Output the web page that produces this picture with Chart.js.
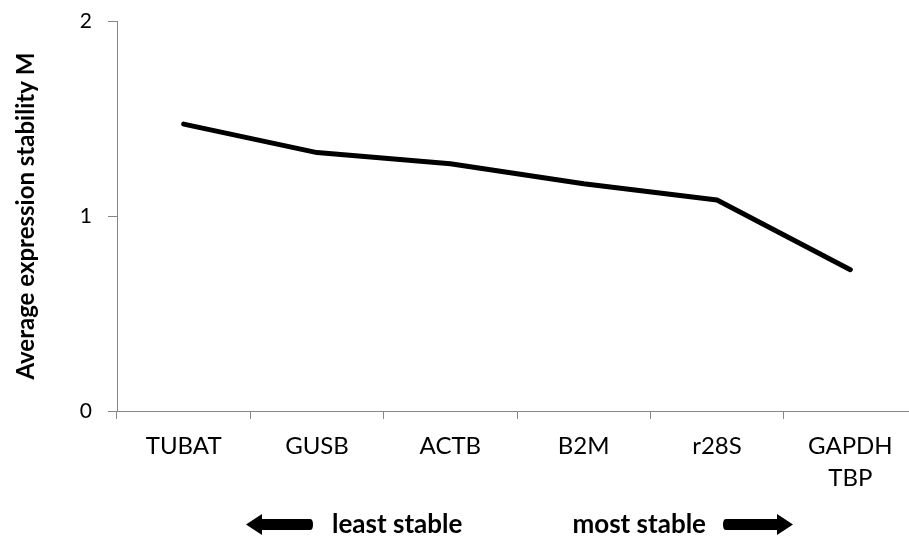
<!DOCTYPE html>
<html>
<head>
<meta charset="utf-8">
<script src="https://cdn.jsdelivr.net/npm/chart.js@4/dist/chart.umd.min.js"></script>
<style>
  html, body { margin: 0; padding: 0; background: #fff; overflow: hidden; }
  #wrap { position: absolute; left: 0; top: 0; width: 917px; height: 539px; }
</style>
</head>
<body>
<div id="wrap"><canvas id="chart"></canvas></div>
<script>
// Reference genes ordered from least to most stable
const genes = ['TUBAT', 'GUSB', 'ACTB', 'B2M', 'r28S', ['GAPDH', 'TBP']];
// Average expression stability M per step
const stabilityM = [1.472, 1.326, 1.269, 1.166, 1.083, 0.725];
// Y axis ticks
const yTicks = [0, 1, 2];

const FONT = 'Lato, "Open Sans", sans-serif';
const AXIS_GREY = '#868686';

// Bottom caption with direction arrows
const stabilityArrows = {
  id: 'stabilityArrows',
  afterDraw(chart) {
    const ctx = chart.ctx;
    const cy = 524.5;
    function arrow(tail, tip) {
      const dir = Math.sign(tip - tail);
      const headLen = 16, headH = 10.5, shaftH = 5.5;
      const neck = tip - dir * headLen;
      ctx.beginPath();
      ctx.moveTo(tip, cy);
      ctx.lineTo(neck, cy - headH);
      ctx.lineTo(neck, cy - shaftH);
      ctx.lineTo(tail + dir * 3, cy - shaftH);
      ctx.quadraticCurveTo(tail, cy - shaftH, tail, cy);
      ctx.quadraticCurveTo(tail, cy + shaftH, tail + dir * 3, cy + shaftH);
      ctx.lineTo(neck, cy + shaftH);
      ctx.lineTo(neck, cy + headH);
      ctx.closePath();
      ctx.fill();
    }
    ctx.save();
    ctx.fillStyle = '#000';
    arrow(313, 246);
    arrow(723, 793);
    ctx.font = 'bold 26px ' + FONT;
    ctx.textBaseline = 'alphabetic';
    ctx.textAlign = 'left';
    ctx.fillText('least stable', 332, 533);
    ctx.textAlign = 'right';
    ctx.fillText('most stable', 706, 533);
    ctx.restore();
  }
};

new Chart(document.getElementById('chart'), {
  type: 'line',
  data: {
    labels: genes,
    datasets: [{
      data: stabilityM,
      borderColor: '#000',
      borderWidth: 5,
      pointRadius: 0,
      tension: 0,
      borderCapStyle: 'round',
      borderJoinStyle: 'round',
      fill: false
    }]
  },
  options: {
    responsive: true,
    maintainAspectRatio: false,
    animation: false,
    layout: { padding: { left: 12, top: 0, right: 0, bottom: 0 } },
    plugins: {
      legend: { display: false },
      tooltip: { enabled: false }
    },
    scales: {
      x: {
        type: 'category',
        offset: true,
        grid: {
          offset: true,
          drawOnChartArea: false,
          drawTicks: true,
          tickLength: 8,
          color: AXIS_GREY,
          lineWidth: 1
        },
        border: { color: AXIS_GREY, width: 1 },
        ticks: {
          color: '#000',
          padding: 11,
          maxRotation: 0,
          autoSkip: false,
          font: { family: FONT, size: 24, lineHeight: 1.33 }
        },
        afterFit(scale) { scale.height = 128; }
      },
      y: {
        min: 0,
        max: 2,
        afterBuildTicks(scale) { scale.ticks = yTicks.map(v => ({ value: v })); },
        grid: {
          drawOnChartArea: false,
          drawTicks: true,
          tickLength: 9,
          color: AXIS_GREY,
          lineWidth: 1
        },
        border: { color: AXIS_GREY, width: 1 },
        ticks: {
          color: '#000',
          padding: 16,
          font: { family: FONT, size: 21, lineHeight: 0.5 }
        },
        title: {
          display: true,
          text: 'Average expression stability M',
          color: '#000',
          font: { family: FONT, size: 24, weight: 700, lineHeight: 1.2 },
          padding: 0
        },
        afterFit(scale) { scale.width = 105; }
      }
    }
  },
  plugins: [stabilityArrows]
});
</script>
</body>
</html>
